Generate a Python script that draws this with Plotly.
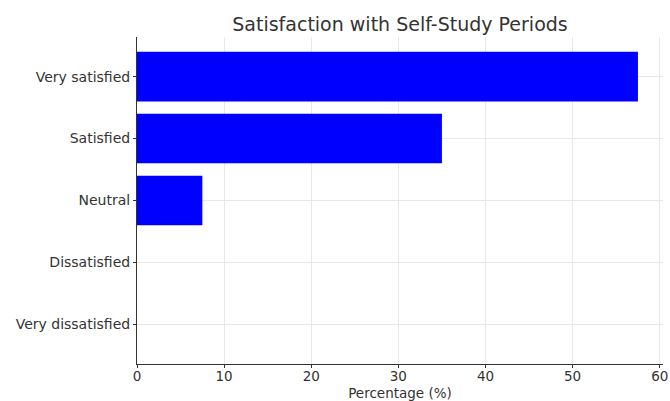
import plotly.graph_objects as go

categories = ["Very dissatisfied", "Dissatisfied", "Neutral", "Satisfied", "Very satisfied"]
percentages = [0, 0, 7.5, 35, 57.5]
x_ticks = [0, 10, 20, 30, 40, 50, 60]

fig = go.Figure()
fig.add_trace(go.Bar(
    y=categories, x=percentages, orientation="h",
    marker=dict(color="#0000ff", line=dict(width=0)),
    width=0.8,
))

font_family = "DejaVu Sans"
fig.update_layout(
    width=670, height=401,
    margin=dict(l=137, r=7, t=37, b=37, autoexpand=False),
    paper_bgcolor="white", plot_bgcolor="white",
    showlegend=False,
    title=dict(text="Satisfaction with Self-Study Periods", x=400/670, xanchor="center",
               y=1-24/401, yanchor="middle",
               font=dict(family=font_family, size=19, color="#333333")),
    font=dict(family=font_family, size=14, color="#333333"),
)
fig.update_xaxes(
    range=[0, 60.375], tickvals=x_ticks, ticktext=[str(v) for v in x_ticks],
    showgrid=True, gridcolor="#e8e8e8", gridwidth=1,
    showline=True, linecolor="#333333", linewidth=1,
    ticks="outside", ticklen=3, tickcolor="#333333",
    ticklabelstandoff=-3,
    zeroline=False, automargin=False,
    title=dict(text="Percentage (%)", font=dict(family=font_family, size=13.5, color="#333333"), standoff=7),
    tickfont=dict(size=13.5, color="#333333"),
)
fig.update_yaxes(
    categoryorder="array", categoryarray=categories,
    range=[-0.64, 4.64],
    showgrid=True, gridcolor="#e8e8e8", gridwidth=1,
    showline=True, linecolor="#333333", linewidth=1,
    ticks="outside", ticklen=3, tickcolor="#333333",
    zeroline=False, automargin=False,
    tickfont=dict(size=14, color="#333333"),
)
fig.write_html("out.html", config={"displayModeBar": False},
               post_script="document.body.style.margin='0px';document.body.style.overflow='hidden';")
